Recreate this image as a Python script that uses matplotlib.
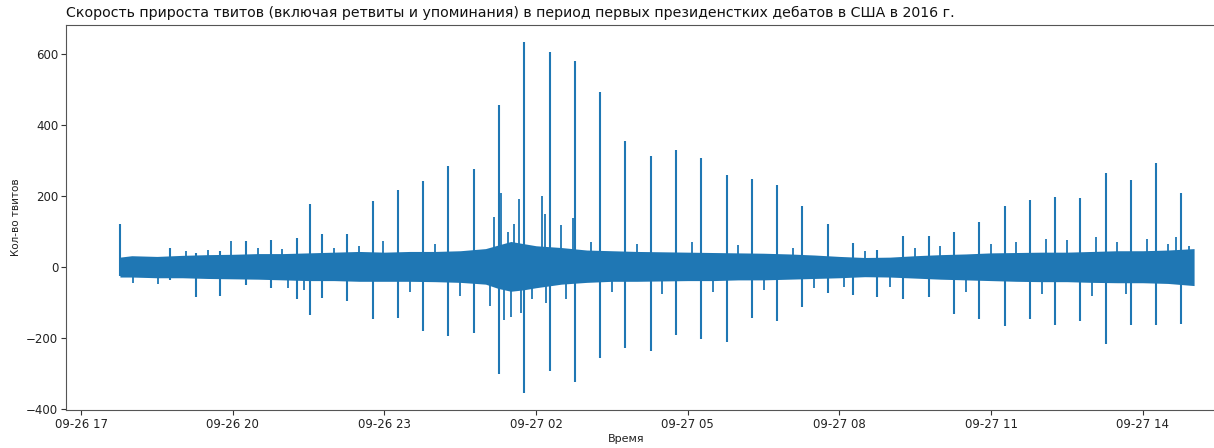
import matplotlib
matplotlib.use("Agg")
import matplotlib.pyplot as plt
import matplotlib.dates as mdates
import pandas as pd

TITLE = "Скорость прироста твитов (включая ретвиты и упоминания) в период первых президенстких дебатов в США в 2016 г."
XLABEL = "Время"
YLABEL = "Кол-во твитов"

# Main spikes (time, peak value, trough value)
spike_times = [
    "2016-09-26 17:46", "2016-09-26 18:46", "2016-09-26 19:16", "2016-09-26 19:45",
    "2016-09-26 20:16", "2016-09-26 20:45", "2016-09-26 21:16", "2016-09-26 21:32",
    "2016-09-26 21:46", "2016-09-26 22:16", "2016-09-26 22:46", "2016-09-26 23:16",
    "2016-09-26 23:46", "2016-09-27 00:16", "2016-09-27 00:46", "2016-09-27 01:16",
    "2016-09-27 01:46", "2016-09-27 02:17", "2016-09-27 02:46", "2016-09-27 03:16",
    "2016-09-27 03:46", "2016-09-27 04:16", "2016-09-27 04:46", "2016-09-27 05:16",
    "2016-09-27 05:46", "2016-09-27 06:16", "2016-09-27 06:46", "2016-09-27 07:16",
    "2016-09-27 07:46", "2016-09-27 08:16", "2016-09-27 08:45", "2016-09-27 09:16",
    "2016-09-27 09:46", "2016-09-27 10:16", "2016-09-27 10:46", "2016-09-27 11:16",
    "2016-09-27 11:46", "2016-09-27 12:16", "2016-09-27 12:46", "2016-09-27 13:16",
    "2016-09-27 13:46", "2016-09-27 14:16", "2016-09-27 14:46",
]
spike_top = [121, 53, 40, 45, 74, 75, 81, 177, 94, 94, 185, 217, 241, 285, 276, 455,
             632, 605, 580, 492, 355, 313, 330, 308, 260, 248, 231, 171, 121, 67, 49, 88,
             88, 98, 126, 171, 189, 197, 194, 264, 246, 294, 208]
spike_bottom = [-25, -35, -83, -81, -50, -60, -90, -134, -86, -95, -145, -142, -179, -195,
                -185, -301, -353, -291, -324, -256, -228, -237, -192, -203, -211, -144,
                -153, -111, -73, -78, -83, -89, -84, -131, -146, -167, -146, -164, -153,
                -217, -162, -164, -160]

# Smaller secondary spikes (time, value)
minor_times = [
    "2016-09-26 18:02", "2016-09-26 18:31", "2016-09-26 19:05", "2016-09-26 19:30",
    "2016-09-26 19:58", "2016-09-26 20:30", "2016-09-26 20:58", "2016-09-26 21:05",
    "2016-09-26 21:25", "2016-09-26 22:00", "2016-09-26 22:30", "2016-09-26 22:58",
    "2016-09-26 23:30", "2016-09-27 00:00", "2016-09-27 00:30", "2016-09-27 01:05",
    "2016-09-27 01:10", "2016-09-27 01:18", "2016-09-27 01:22", "2016-09-27 01:27",
    "2016-09-27 01:30", "2016-09-27 01:34", "2016-09-27 01:40", "2016-09-27 01:42",
    "2016-09-27 01:55", "2016-09-27 02:07", "2016-09-27 02:10", "2016-09-27 02:12",
    "2016-09-27 02:29", "2016-09-27 02:35", "2016-09-27 02:44", "2016-09-27 03:05",
    "2016-09-27 03:30", "2016-09-27 04:00", "2016-09-27 04:30", "2016-09-27 05:05",
    "2016-09-27 05:30", "2016-09-27 06:00", "2016-09-27 06:30", "2016-09-27 07:05",
    "2016-09-27 07:30", "2016-09-27 08:05", "2016-09-27 08:30", "2016-09-27 09:00",
    "2016-09-27 09:30", "2016-09-27 10:00", "2016-09-27 10:30", "2016-09-27 11:00",
    "2016-09-27 11:30", "2016-09-27 12:00", "2016-09-27 12:05", "2016-09-27 12:30",
    "2016-09-27 13:00", "2016-09-27 13:05", "2016-09-27 13:30", "2016-09-27 13:40",
    "2016-09-27 14:05", "2016-09-27 14:30", "2016-09-27 14:40", "2016-09-27 14:55",
]
minor_values = [-45, -48, 45, 48, 72, 55, 50, -60, -65, 55, 60, 72, -70, 65, -80, -110,
                140, 208, -150, 100, -139, 120, 191, -130, -90, 201, 150, -100, 117, -90,
                138, 70, -70, 65, -75, 70, -70, 62, -65, 55, -60, -55, 45, -55, 55, 60,
                -70, 65, 70, -75, 80, 75, -80, 85, 70, -75, 80, 65, 85, 60]

# Envelope of the dense noise band
band_times = [
    "2016-09-26 17:46", "2016-09-26 18:00", "2016-09-26 18:30", "2016-09-26 19:00",
    "2016-09-26 19:30", "2016-09-26 20:00", "2016-09-26 20:30", "2016-09-26 21:00",
    "2016-09-26 21:30", "2016-09-26 22:00", "2016-09-26 22:30", "2016-09-26 23:00",
    "2016-09-26 23:30", "2016-09-27 00:00", "2016-09-27 00:30", "2016-09-27 01:00",
    "2016-09-27 01:15", "2016-09-27 01:30", "2016-09-27 01:45", "2016-09-27 02:00",
    "2016-09-27 02:30", "2016-09-27 03:00", "2016-09-27 03:30", "2016-09-27 04:00",
    "2016-09-27 04:30", "2016-09-27 05:00", "2016-09-27 05:30", "2016-09-27 06:00",
    "2016-09-27 06:30", "2016-09-27 07:00", "2016-09-27 07:30", "2016-09-27 08:00",
    "2016-09-27 08:30", "2016-09-27 09:00", "2016-09-27 09:30", "2016-09-27 10:00",
    "2016-09-27 10:30", "2016-09-27 11:00", "2016-09-27 11:30", "2016-09-27 12:00",
    "2016-09-27 12:30", "2016-09-27 13:00", "2016-09-27 13:30", "2016-09-27 14:00",
    "2016-09-27 14:30", "2016-09-27 15:01",
]
band_upper = [28, 32, 30, 33, 35, 36, 38, 38, 40, 42, 44, 42, 44, 44, 46, 52, 62, 72, 66,
              60, 55, 48, 46, 44, 43, 42, 41, 40, 39, 37, 34, 30, 27, 28, 32, 35, 37, 40,
              41, 42, 42, 44, 46, 46, 48, 52]
band_lower = [-28, -28, -30, -30, -32, -33, -34, -36, -38, -38, -40, -40, -40, -41, -43,
              -48, -60, -68, -64, -58, -48, -43, -40, -40, -39, -38, -38, -36, -36, -34,
              -32, -30, -27, -28, -31, -34, -36, -38, -40, -41, -41, -43, -44, -44, -46,
              -52]

COLOR = "#1f77b4"
W, H = 1214, 448
fig = plt.figure(figsize=(W / 100, H / 100), dpi=100)
fig.patch.set_facecolor("white")
ax = fig.add_axes([66 / W, 38 / H, (1248 - 66) / W, (410 - 25) / H])

st = pd.to_datetime(spike_times)
mt = pd.to_datetime(minor_times)
bt = pd.to_datetime(band_times)

ax.fill_between(bt, band_lower, band_upper, color=COLOR, lw=0)
ax.vlines(mt, 0, minor_values, color=COLOR, lw=1.3)
ax.vlines(st, spike_bottom, spike_top, color=COLOR, lw=1.5)

ax.set_xlim(pd.Timestamp("2016-09-26 16:42"), pd.Timestamp("2016-09-27 16:05"))
ax.set_ylim(-402, 681)
ax.set_yticks([-400, -200, 0, 200, 400, 600])
ax.xaxis.set_major_locator(mdates.HourLocator(byhour=[2, 5, 8, 11, 14, 17, 20, 23]))
ax.xaxis.set_major_formatter(mdates.DateFormatter("%m-%d %H"))
ax.tick_params(labelsize=8.5, colors="#333333", labelcolor="#222222", pad=2)
for s in ax.spines.values():
    s.set_color("#555555")

ax.set_title(TITLE, loc="left", fontsize=10.2, color="#111111", pad=6)
ax.set_xlabel(XLABEL, fontsize=8, color="#222222")
ax.xaxis.set_label_coords((626 - 66) / (1248 - 66), -0.062)
ax.set_ylabel(YLABEL, fontsize=7.5, color="#222222")

fig.savefig("out.png", dpi=100, facecolor="white")
